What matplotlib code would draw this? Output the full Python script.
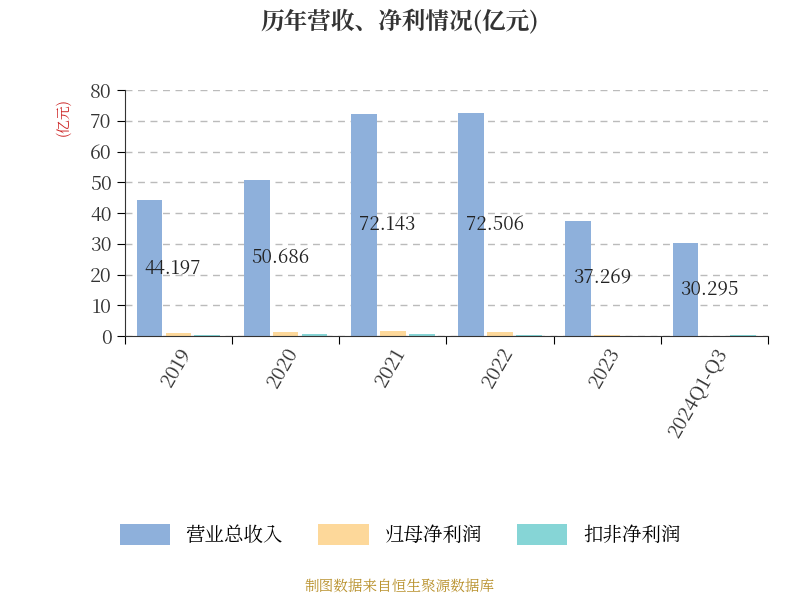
import matplotlib.pyplot as plt
from matplotlib import font_manager
import numpy as np

cjk = [f.name for f in font_manager.fontManager.ttflist if "CJK" in f.name]
cjk_name = "Noto Sans CJK SC" if "Noto Sans CJK SC" in cjk else (cjk[0] if cjk else "DejaVu Sans")
plt.rcParams["font.family"] = "sans-serif"
plt.rcParams["font.sans-serif"] = [cjk_name, "DejaVu Sans"]

years = ["2019", "2020", "2021", "2022", "2023", "2024Q1-Q3"]
revenue = [44.197, 50.686, 72.143, 72.506, 37.269, 30.295]
net_profit = [1.0, 1.4, 1.6, 1.3, 0.3, 0.1]
deducted_profit = [0.2, 0.5, 0.6, 0.4, 0.1, 0.2]

fig = plt.figure(figsize=(8, 6), dpi=100)
ax = fig.add_axes([0.156, 0.44, 0.804, 0.41])

x = np.arange(len(years))
w = 0.24
ax.bar(x - 0.27, revenue, w, color="#8eb0db", label="营业总收入")
ax.bar(x, net_profit, w, color="#fdd89a", label="归母净利润")
ax.bar(x + 0.27, deducted_profit, w, color="#86d5d6", label="扣非净利润")

for xi, v in zip(x, revenue):
    ax.text(xi - 0.05, v / 2, f"{v:.3f}", ha="center", va="center", fontsize=13.5, color="#222222")

ax.set_xlim(-0.5, len(years) - 0.5)
ax.set_ylim(0, 80)
ax.set_yticks(range(0, 81, 10))
ax.set_xticks(np.arange(-0.5, len(years), 1), minor=False)
ax.set_xticklabels([""] * (len(years) + 1))
ax.set_xticks(x, minor=True)
ax.set_xticklabels(years, minor=True, rotation=60, fontsize=14, color="#333333",
                   ha="right", rotation_mode="anchor")
ax.tick_params(axis="x", which="minor", length=0, pad=6)
ax.tick_params(axis="x", which="major", length=6)
ax.tick_params(axis="y", labelsize=14, labelcolor="#333333", length=6)
ax.grid(axis="y", linestyle=(0, (5, 4)), color="#bbbbbb", linewidth=1)
ax.set_axisbelow(True)
for s in ["top", "right"]:
    ax.spines[s].set_visible(False)
ax.spines["left"].set_color("#333333")
ax.spines["bottom"].set_color("#333333")

fig.text(0.08, 0.805, "(亿元)", rotation=90, color="#cc2222", fontsize=10, ha="center", va="center")
fig.text(0.5, 0.962, "历年营收、净利情况(亿元)", ha="center", va="center", fontsize=17, fontweight="bold", color="#333333")

fig.legend(loc="center", bbox_to_anchor=(0.5, 0.108), ncol=3, frameon=False, fontsize=14,
           handlelength=2.6, handleheight=1.3, columnspacing=1.8)
fig.text(0.5, 0.02, "制图数据来自恒生聚源数据库", ha="center", va="center", fontsize=10.5, color="#b8902a")

fig.savefig("out.png")
